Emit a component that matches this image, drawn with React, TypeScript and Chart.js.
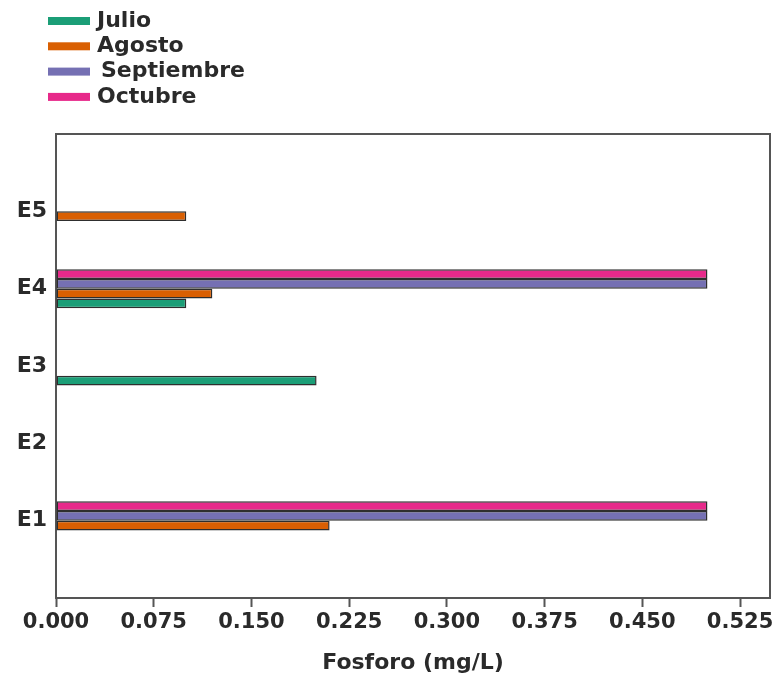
import React, { useEffect, useRef } from "react";
import { Chart, registerables } from "chart.js";

Chart.register(...registerables);

// ---- data ----
const categories = ["E1", "E2", "E3", "E4", "E5"];
const julio = [0, 0, 0.2, 0.1, 0];
const agosto = [0.21, 0, 0, 0.12, 0.1];
const septiembre = [0.5, 0, 0, 0.5, 0];
const octubre = [0.5, 0, 0, 0.5, 0];
const seriesNames = ["Julio", "Agosto", "Septiembre", "Octubre"];
const seriesColors = ["#1b9e77", "#d95f02", "#7570b3", "#e7298a"];
const xTicks = [0, 0.075, 0.15, 0.225, 0.3, 0.375, 0.45, 0.525];
const xMax = 0.548;
const xTitle = "Fosforo (mg/L)";

const FONT = "'DejaVu Sans', 'Liberation Sans', Arial, sans-serif";
const AXIS_COLOR = "#555555";
const TEXT_COLOR = "#2a2a2a";

export default function App() {
  const canvasRef = useRef<HTMLCanvasElement | null>(null);

  useEffect(() => {
    if (!canvasRef.current) return;
    // top-to-bottom order of the category axis, padded with empty slots
    const yLabels = ["", ...categories.slice().reverse(), ""];
    const pad = (arr: number[]) => [null, ...arr.slice().reverse(), null];
    const allSeries = [julio, agosto, septiembre, octubre];

    // dataset 0 is drawn on top of each group -> put Octubre first
    const order = [3, 2, 1, 0];
    const datasets = order.map((i) => ({
      label: seriesNames[i],
      data: pad(allSeries[i]),
      backgroundColor: seriesColors[i],
      borderColor: "#2e2e2e",
      borderWidth: 1.5,
      borderSkipped: false as const,
      categoryPercentage: 0.505,
      barPercentage: 1.0,
    }));

    const legendAndFrame = {
      id: "legendAndFrame",
      afterDraw(chart: any) {
        const ctx = chart.ctx;
        const { top, right, left, bottom } = chart.chartArea;
        ctx.save();
        // top and right frame lines
        ctx.strokeStyle = AXIS_COLOR;
        ctx.lineWidth = 2;
        ctx.beginPath();
        ctx.moveTo(left - 1, top);
        ctx.lineTo(right, top);
        ctx.lineTo(right, bottom + 1);
        ctx.stroke();
        // vertical legend at top-left
        ctx.font = `bold 22px ${FONT}`;
        ctx.textBaseline = "middle";
        ctx.textAlign = "left";
        seriesNames.forEach((name, i) => {
          const y = 21 + i * 25.3;
          ctx.fillStyle = seriesColors[i];
          ctx.fillRect(48, y - 4, 42, 8);
          ctx.fillStyle = TEXT_COLOR;
          ctx.fillText(name, i === 2 ? 101 : 97, y);
        });
        ctx.restore();
      },
    };

    const chart = new Chart(canvasRef.current, {
      type: "bar",
      data: { labels: yLabels, datasets },
      options: {
        indexAxis: "y",
        animation: false,
        responsive: true,
        maintainAspectRatio: false,
        layout: { padding: { top: 134, right: 7, left: 0, bottom: 0 } },
        plugins: {
          legend: { display: false },
          tooltip: { enabled: false },
        },
        scales: {
          x: {
            type: "linear",
            min: 0,
            max: xMax,
            afterBuildTicks: (scale: any) => {
              scale.ticks = xTicks.map((v) => ({ value: v }));
            },
            afterFit: (scale: any) => {
              scale.height = 80;
            },
            grid: {
              drawOnChartArea: false,
              drawTicks: true,
              tickLength: 9,
              tickWidth: 2,
              tickColor: AXIS_COLOR,
            },
            border: { display: true, color: AXIS_COLOR, width: 2 },
            ticks: {
              font: { family: FONT, size: 21, weight: "bold" },
              color: TEXT_COLOR,
              padding: 3,
              maxRotation: 0,
              autoSkip: false,
              callback: (v: any) => Number(v).toFixed(3),
            },
            title: {
              display: true,
              text: xTitle,
              font: { family: FONT, size: 22, weight: "bold" },
              color: TEXT_COLOR,
              padding: { top: 4, bottom: 2 },
            },
          },
          y: {
            type: "category",
            offset: false,
            afterFit: (scale: any) => {
              scale.width = 56;
            },
            grid: { display: false, drawTicks: false },
            border: { display: true, color: AXIS_COLOR, width: 2 },
            ticks: {
              font: { family: FONT, size: 22, weight: "bold" },
              color: TEXT_COLOR,
              padding: 9,
              autoSkip: false,
            },
          },
        },
      },
      plugins: [legendAndFrame],
    });
    return () => chart.destroy();
  }, []);

  return (
    <div style={{ position: "fixed", left: 0, top: 0, width: 777, height: 678, background: "#ffffff" }}>
      <canvas ref={canvasRef} />
    </div>
  );
}
